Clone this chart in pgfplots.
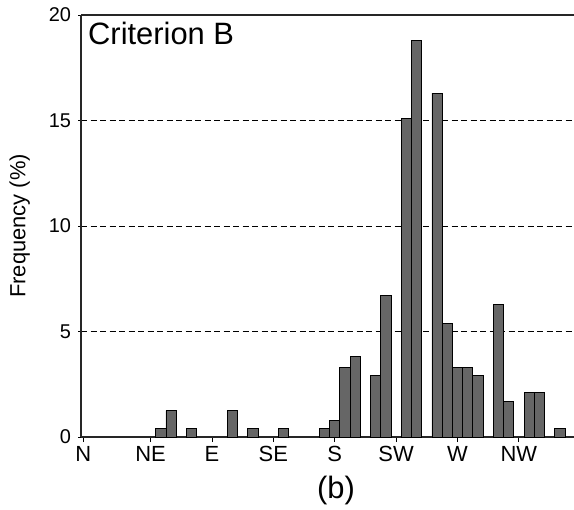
\documentclass[border=0pt]{standalone}
\usepackage{fontspec}
\setmainfont{Liberation Sans}
\usepackage{pgfplots}
\pgfplotsset{compat=1.18}

\begin{document}
\begin{tikzpicture}
\begin{axis}[
  at={(81bp,73bp)}, anchor=south west,
  scale only axis,
  width=493bp, height=422bp,
  xmin=-6, xmax=355.4,
  ymin=0, ymax=20,
  axis x line*=bottom,
  axis y line*=left,
  axis line style={line width=1.3pt, black!85},
  xtick={-4.4,45,90,135,180,225,270,315},
  xticklabels={N,NE,E,SE,S,SW,W,NW},
  ytick={0,5,10,15,20},
  x tick style={black, line width=0.9pt},
  y tick style={black, line width=0.9pt},
  xtick align=outside,
  ytick align=center,
  major tick length=5bp,
  x tick label style={font=\fontsize{22}{24}\selectfont, yshift=-1bp},
  y tick label style={font=\fontsize{20}{22}\selectfont, xshift=-4bp},
  /pgf/number format/assume math mode=true,
  ymajorgrids=true,
  grid style={black, line width=0.8pt, dash pattern=on 6bp off 3.5bp},
  ylabel={Frequency (\%)},
  ylabel style={font=\fontsize{22}{24}\selectfont, yshift=12bp},
  xlabel={(b)},
  xlabel style={font=\fontsize{31}{33}\selectfont, xshift=8.5bp, yshift=-7bp},
  ybar, bar width=7.5, bar shift=0pt,
  clip=false,
]
\addplot[draw=black, line width=0.8pt, fill=black!60] coordinates {
  (52.5,0.4) (60,1.25) (75,0.4) (105,1.25) (120,0.4) (142.5,0.4)
  (172.5,0.4) (180,0.8) (187.5,3.3) (195,3.8)
  (210,2.9) (217.5,6.7) (232.5,15.1) (240,18.8)
  (255,16.3) (262.5,5.4) (270,3.3) (277.5,3.3) (285,2.9)
  (300,6.3) (307.5,1.7) (322.5,2.1) (330,2.1) (345,0.4)
};
\draw[line width=1.3pt, black!85] (rel axis cs:0,1) -- (rel axis cs:1,1);
\node[anchor=north west, font=\fontsize{31}{33}\selectfont, inner sep=0pt]
  at ([xshift=7bp, yshift=-7bp]rel axis cs:0,1) {Criterion B};
\end{axis}
\pgfresetboundingbox
\path[use as bounding box] (0,0) rectangle (574bp,510bp);
\end{tikzpicture}
\end{document}
